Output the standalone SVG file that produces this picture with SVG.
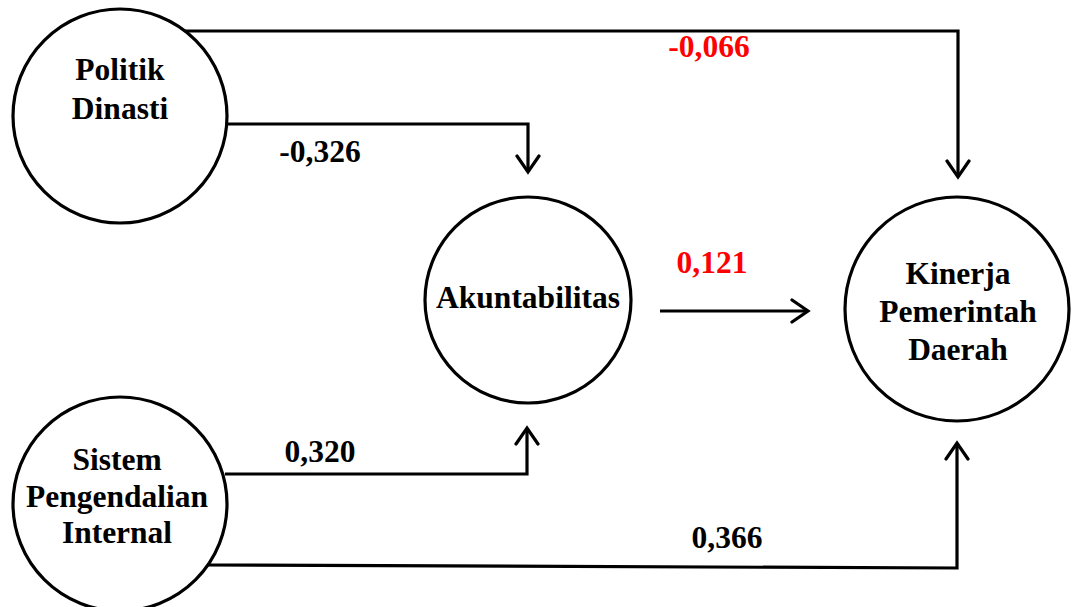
<svg xmlns="http://www.w3.org/2000/svg" width="1077" height="607" viewBox="0 0 1077 607">
<style>
.node{fill:#fff;stroke:#000;stroke-width:3.2}
.lbl{font-family:"Liberation Serif","Times New Roman",serif;font-weight:bold;font-size:31.5px;text-anchor:middle;fill:#000}
.red{fill:#ff0000}
.conn{fill:none;stroke:#000;stroke-width:3.2;stroke-linejoin:miter;marker-end:url(#arr)}
</style>
<defs>
<marker id="arr" markerUnits="userSpaceOnUse" viewBox="-2 -2 22 28" markerWidth="22" markerHeight="28" refX="16" refY="11" orient="auto">
<path d="M0,0 L16,11 L0,22" fill="none" stroke="#000" stroke-width="3.2" stroke-linecap="round" stroke-linejoin="miter"/>
</marker>
</defs>
<rect width="1077" height="607" fill="#fff"/>
<g id="connectors">
<path class="conn" d="M185,31 H958 V177"/>
<path class="conn" d="M228,124 H528 V172"/>
<path class="conn" d="M225,474 H527 V428"/>
<path class="conn" d="M205,565 L957,568 V443"/>
<path class="conn" d="M660,311 H808"/>
<text class="lbl red" x="709" y="57">-0,066</text>
<text class="lbl" x="320" y="162">-0,326</text>
<text class="lbl red" x="712" y="273">0,121</text>
<text class="lbl" x="320" y="462">0,320</text>
<text class="lbl" x="727" y="548">0,366</text>
</g>
<g id="politik">
<circle class="node" cx="120" cy="116" r="107"/>
<text class="lbl" x="120" y="80">Politik</text>
<text class="lbl" x="120" y="119">Dinasti</text>
</g>
<g id="sistem">
<circle class="node" cx="120" cy="504" r="107"/>
<text class="lbl" x="117" y="470">Sistem</text>
<text class="lbl" x="117" y="507">Pengendalian</text>
<text class="lbl" x="117" y="543">Internal</text>
</g>
<g id="akuntabilitas">
<circle class="node" cx="528" cy="300" r="103"/>
<text class="lbl" x="528" y="308">Akuntabilitas</text>
</g>
<g id="kinerja">
<circle class="node" cx="957" cy="309" r="112"/>
<text class="lbl" x="958" y="284">Kinerja</text>
<text class="lbl" x="958" y="322">Pemerintah</text>
<text class="lbl" x="958" y="360">Daerah</text>
</g>
</svg>
